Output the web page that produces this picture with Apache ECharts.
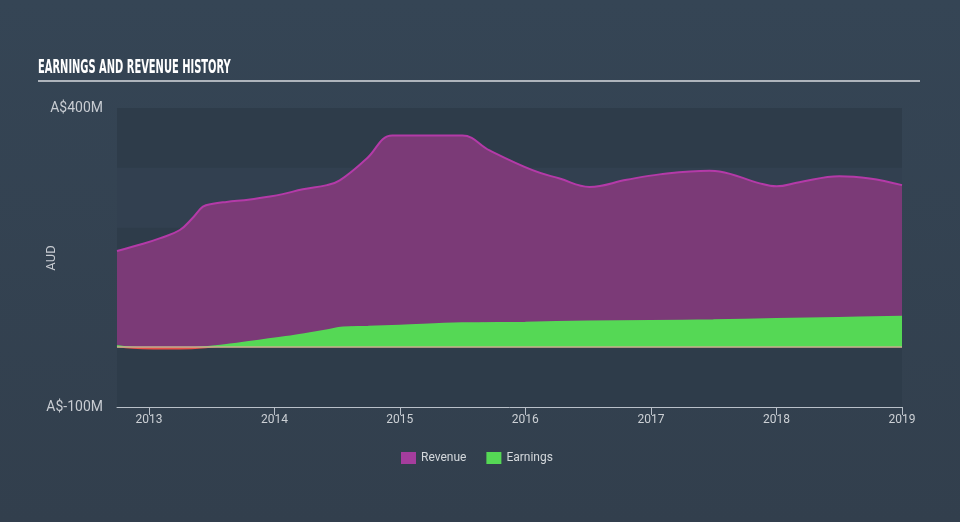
<!DOCTYPE html>
<html>
<head>
<meta charset="utf-8">
<script src="https://cdn.jsdelivr.net/npm/echarts@6/dist/echarts.min.js"></script>
<style>html,body{margin:0;padding:0;background:#344352;}#c{width:960px;height:522px;}</style>
</head>
<body>
<div id="c"></div>
<script>
var revenueDates = ['2012-09-30','2012-12-15','2013-02-01','2013-04-01','2013-05-08','2013-06-07','2013-07-06','2013-08-15','2013-10-22','2013-12-19','2014-01-25','2014-03-25','2014-06-03','2014-07-10','2014-09-26','2014-12-10','2015-07-02','2015-09-19','2016-01-22','2016-04-10','2016-07-06','2016-10-22','2017-01-26','2017-06-20','2017-07-19','2017-11-13','2018-01-01','2018-03-08','2018-07-03','2018-09-29','2019-01-01'];
var revenueValues = [161,173,182,196,216,235,240,243,247,252,256,264,271,279,315,354,354,329,296,282,268,280,289,295,294,274,269,276,286,282,271];
var earningsDates = ['2012-09-30','2012-11-15','2013-01-15','2013-04-01','2013-06-15','2013-09-01','2013-12-01','2014-03-01','2014-06-01','2014-07-20','2014-10-01','2015-01-01','2015-07-01','2016-01-01','2016-07-01','2017-01-01','2017-07-01','2018-01-01','2018-07-01','2019-01-01'];
var earningsValues = [2,-1,-2,-2,0,5,12,19,28,33,34,36,40,41,43,44,45,47,49,51];
var yTickLabels = {'400':'A$400M','-100':'A$-100M'};

function pairs(d, v){ return d.map(function(x,i){ return [x, v[i]]; }); }

var chart = echarts.init(document.getElementById('c'), null, {renderer:'canvas'});
chart.setOption({
  backgroundColor: {type:'linear', x:0, y:0, x2:0, y2:1, colorStops:[{offset:0,color:'#354555'},{offset:1,color:'#323f4d'}]},
  animation: false,
  graphic: [
    {type:'text', x:38, y:59, scaleX:0.58, style:{text:'EARNINGS AND REVENUE HISTORY', fill:'#ffffff', font:'bold 19px "DejaVu Sans Condensed", "DejaVu Sans"', textVerticalAlign:'top'}},
    {type:'rect', shape:{x:38, y:80, width:882, height:2}, style:{fill:'#aeb4bc'}},
    {type:'text', x:52, y:258, rotation:Math.PI/2, style:{text:'AUD', fill:'#c8ccd2', font:'13px Roboto', textAlign:'center', textVerticalAlign:'middle'}}
  ],
  legend: {
    left: 396, top: 447, itemWidth: 15, itemHeight: 12, itemGap: 20,
    icon: 'rect',
    textStyle: {color:'#d4d8dc', fontSize:12, fontFamily:'Roboto'},
    data: ['Revenue','Earnings']
  },
  grid: {left:117, right:58, top:108, bottom:115},
  xAxis: {
    type:'time', min:'2012-09-30', max:'2019-01-01',
    minInterval: 365*24*3600*1000, maxInterval: 366*24*3600*1000,
    axisLine:{show:true, onZero:false, lineStyle:{color:'#b9c0c9', width:1}},
    axisTick:{show:true, length:8, lineStyle:{color:'#b9c0c9'}},
    axisLabel:{color:'#ccd0d5', fontSize:12, fontFamily:'Roboto', showMinLabel:false, showMaxLabel:true, formatter:'{yyyy}', margin:7},
    splitLine:{show:false}
  },
  yAxis: {
    type:'value', min:-100, max:400, interval:100,
    axisLine:{show:false}, axisTick:{show:false},
    axisLabel:{color:'#c8ccd2', fontSize:14, fontFamily:'Roboto', margin:14,
      formatter:function(v){ return yTickLabels[String(v)] || ''; }},
    splitLine:{show:false},
    splitArea:{show:true, areaStyle:{color:['#2e3c4a','#324050']}}
  },
  visualMap: {
    show:false, type:'piecewise', seriesIndex:1, dimension:1,
    pieces:[{min:-100, max:0, color:'#e8504a'},{min:0, max:400, color:'#55d855'}]
  },
  series: [
    {
      name:'Revenue', type:'line', smooth:0.4, showSymbol:false,
      data: pairs(revenueDates, revenueValues),
      itemStyle:{color:'#a53d9d'},
      lineStyle:{color:'#b43aa8', width:2},
      areaStyle:{color:'#7b3a77', opacity:1},
      markLine:{silent:true, symbol:'none', label:{show:false},
        lineStyle:{color:'#c2b28e', width:1.5, type:'solid'}, data:[{yAxis:0}]},
      z:2
    },
    {
      name:'Earnings', type:'line', smooth:0.4, showSymbol:false,
      data: pairs(earningsDates, earningsValues),
      itemStyle:{color:'#55d855'},
      lineStyle:{width:2},
      areaStyle:{opacity:1},
      z:3
    }
  ]
});
</script>
</body>
</html>
